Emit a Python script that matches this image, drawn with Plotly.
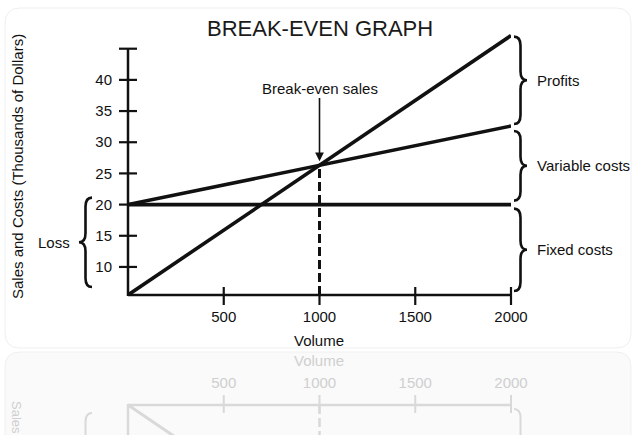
import plotly.graph_objects as go

# ---------------- data ----------------
volume = [0, 2000]
sales = [5.5, 47.1]
total_costs = [20.0, 32.6]
fixed_costs = [20.0, 20.0]
break_even_volume = 1000
break_even_value = 26.3
x_ticks = [500, 1000, 1500, 2000]
y_ticks = [10, 15, 20, 25, 30, 35, 40, 45]
y_tick_text = ["10", "15", "20", "25", "30", "35", "40", ""]
title_text = "BREAK-EVEN GRAPH"
x_title = "Volume"
y_title = "Sales and Costs (Thousands of Dollars)"
y_title_reflected = "Sales"

# ---------------- layout constants ----------------
W, H = 637, 435
ML, MR, MT, MB = 128, 126, 30, 0
PW, PH = W - ML - MR, H - MT - MB
X0, X1 = 0, 2000
Y0, Y1 = 5.5, 48
AXIS_PX = 295            # pixel row of the x axis
MIRROR = 350             # reflection line
R_AXIS_PX = 2 * MIRROR - AXIS_PX
dom0 = (H - MB - AXIS_PX) / PH
upp = (Y1 - Y0) / (AXIS_PX - MT)   # data units per pixel (y)

FONT = "Liberation Sans, Arial, Helvetica, sans-serif"
INK = "#111111"
GHOST = "#d9d9d9"
GHOST_TXT = "#cfcfcf"


def px_x(v):
    return ML + (v - X0) / (X1 - X0) * PW


def px_y(v):
    return AXIS_PX - (v - Y0) / upp


def fx(p):
    return (p - ML) / PW


def fy(p):
    return (H - MB - p) / PH


def mir(p):
    return 2 * MIRROR - p


def line_shape(x0, y0, x1, y1, color=INK, width=2.5, layer="above"):
    return dict(type="line", xref="paper", yref="paper",
                x0=fx(x0), y0=fy(y0), x1=fx(x1), y1=fy(y1),
                line=dict(color=color, width=width), layer=layer)


def brace(xe, xt, ytop, ybot, color=INK, width=2.6, ty=lambda p: p):
    xm = (xe + xt) / 2
    ym = (ytop + ybot) / 2
    q = min(9, (ybot - ytop) / 6)
    pts = [("M", [(xe, ytop)]),
           ("Q", [(xm, ytop), (xm, ytop + q)]),
           ("L", [(xm, ym - q)]),
           ("Q", [(xm, ym), (xt, ym)]),
           ("Q", [(xm, ym), (xm, ym + q)]),
           ("L", [(xm, ybot - q)]),
           ("Q", [(xm, ybot), (xe, ybot)])]
    path = ""
    for cmd, ps in pts:
        path += cmd + " " + " ".join(f"{fx(a):.5f},{fy(ty(b)):.5f}" for a, b in ps) + " "
    return dict(type="path", xref="paper", yref="paper", path=path.strip(),
                line=dict(color=color, width=width), layer="above")


fig = go.Figure()

# main lines
fig.add_trace(go.Scatter(x=volume, y=fixed_costs, mode="lines",
                         line=dict(color=INK, width=3.6), hoverinfo="skip"))
fig.add_trace(go.Scatter(x=volume, y=total_costs, mode="lines",
                         line=dict(color=INK, width=3.6), hoverinfo="skip"))
fig.add_trace(go.Scatter(x=volume, y=sales, mode="lines",
                         line=dict(color=INK, width=3.6), hoverinfo="skip"))
fig.add_trace(go.Scatter(x=[break_even_volume, break_even_volume], y=[Y0, break_even_value],
                         mode="lines", line=dict(color=INK, width=3, dash="9px,4px"),
                         hoverinfo="skip"))

# reflection lines
fig.add_trace(go.Scatter(x=volume, y=sales, mode="lines", xaxis="x2", yaxis="y2",
                         line=dict(color=GHOST, width=3), hoverinfo="skip"))
fig.add_trace(go.Scatter(x=[break_even_volume, break_even_volume], y=[Y0, break_even_value],
                         mode="lines", xaxis="x2", yaxis="y2",
                         line=dict(color=GHOST, width=2.5, dash="9px,4px"), hoverinfo="skip"))

shapes = []
# card backgrounds
shapes.append(dict(type="path", xref="paper", yref="paper", layer="below",
                   path=(f"M {fx(20):.4f},{fy(8):.4f} L {fx(616):.4f},{fy(8):.4f} "
                         f"Q {fx(631):.4f},{fy(8):.4f} {fx(631):.4f},{fy(24):.4f} "
                         f"L {fx(631):.4f},{fy(333):.4f} Q {fx(631):.4f},{fy(348):.4f} {fx(616):.4f},{fy(348):.4f} "
                         f"L {fx(20):.4f},{fy(348):.4f} Q {fx(5):.4f},{fy(348):.4f} {fx(5):.4f},{fy(333):.4f} "
                         f"L {fx(5):.4f},{fy(24):.4f} Q {fx(5):.4f},{fy(8):.4f} {fx(20):.4f},{fy(8):.4f} Z"),
                   fillcolor="white", line=dict(color="#efefef", width=1)))
shapes.append(dict(type="path", xref="paper", yref="paper", layer="below",
                   path=(f"M {fx(20):.4f},{fy(352):.4f} L {fx(616):.4f},{fy(352):.4f} "
                         f"Q {fx(631):.4f},{fy(352):.4f} {fx(631):.4f},{fy(367):.4f} "
                         f"L {fx(631):.4f},{fy(445):.4f} L {fx(5):.4f},{fy(445):.4f} "
                         f"L {fx(5):.4f},{fy(367):.4f} Q {fx(5):.4f},{fy(352):.4f} {fx(20):.4f},{fy(352):.4f} Z"),
                   fillcolor="#fafafa", line=dict(color="#f0f0f0", width=1)))

# axes lines
shapes.append(line_shape(ML, AXIS_PX, px_x(X1), AXIS_PX))
shapes.append(line_shape(ML, AXIS_PX + 1, ML, px_y(y_ticks[-1])))
for v in y_ticks:
    shapes.append(line_shape(ML - 9, px_y(v), ML + 9, px_y(v), width=2.2))
for v in x_ticks:
    shapes.append(line_shape(px_x(v), AXIS_PX - 8, px_x(v), AXIS_PX + 10, width=2.2))

# reflected axes
shapes.append(line_shape(ML, R_AXIS_PX, px_x(X1), R_AXIS_PX, color=GHOST, layer="below"))
shapes.append(line_shape(ML, R_AXIS_PX - 1, ML, H + 5, color=GHOST, layer="below"))
for v in x_ticks:
    shapes.append(line_shape(px_x(v), R_AXIS_PX - 10, px_x(v), R_AXIS_PX + 8,
                             color=GHOST, width=2, layer="below"))

# braces
xe_r, xt_r = px_x(X1) + 3, px_x(X1) + 16
shapes.append(brace(xe_r, xt_r, px_y(sales[-1]) + 1, px_y(total_costs[-1]) - 2))
shapes.append(brace(xe_r, xt_r, px_y(total_costs[-1]) + 5, px_y(fixed_costs[-1]) - 4))
shapes.append(brace(xe_r, xt_r, px_y(fixed_costs[-1]) + 4, px_y(Y0) - 4))
shapes.append(brace(ML - 36, ML - 49, px_y(fixed_costs[0]) - 7, px_y(Y0) - 8))
# reflected braces
shapes.append(brace(xe_r, xt_r, px_y(fixed_costs[-1]) + 4, px_y(Y0) - 4,
                    color=GHOST, width=2, ty=mir))
shapes.append(brace(ML - 36, ML - 49, px_y(fixed_costs[0]) - 7, px_y(Y0) - 8,
                    color=GHOST, width=2, ty=mir))

annotations = []


def label(text, x, y, xanchor="center", yanchor="middle", size=15, color=INK, angle=0):
    annotations.append(dict(text=text, xref="paper", yref="paper", x=fx(x), y=fy(y),
                            xanchor=xanchor, yanchor=yanchor, showarrow=False, textangle=angle,
                            font=dict(family=FONT, size=size, color=color)))


label(title_text, 320, 28, size=22, color="#1a1a1a")
label(x_title, 319, 340)
label(y_title, 17, 167, angle=-90)
right_x = xt_r + 8
label("Profits", right_x, (px_y(sales[-1]) + px_y(total_costs[-1])) / 2, xanchor="left")
label("Variable costs", right_x, (px_y(total_costs[-1]) + px_y(fixed_costs[-1])) / 2, xanchor="left")
label("Fixed costs", right_x, (px_y(fixed_costs[-1]) + px_y(Y0)) / 2, xanchor="left")
label("Loss", ML - 56, (px_y(fixed_costs[0]) + px_y(Y0)) / 2 - 7, xanchor="right")
# reflected texts
label(x_title, 319, mir(340), color=GHOST_TXT)
label(y_title_reflected, 17, 417, angle=90, size=13, color=GHOST_TXT)

# break-even arrow
tip_val = break_even_value + 4 * upp
annotations.append(dict(text="Break-even sales", x=break_even_volume, y=tip_val,
                        xref="x", yref="y", ax=0, ay=-(px_y(tip_val) - 88), axref="pixel",
                        showarrow=True, arrowhead=2, arrowsize=1.1, arrowwidth=1.6,
                        arrowcolor=INK, standoff=0,
                        font=dict(family=FONT, size=15, color=INK)))

fig.update_layout(
    width=W, height=H,
    margin=dict(l=ML, r=MR, t=MT, b=MB, pad=0),
    paper_bgcolor="white", plot_bgcolor="rgba(0,0,0,0)",
    showlegend=False, hovermode=False,
    shapes=shapes, annotations=annotations,
    xaxis=dict(range=[X0, X1], domain=[0, 1], anchor="y", showgrid=False, zeroline=False,
               showline=False, tickvals=x_ticks, ticks="outside", ticklen=8,
               tickcolor="rgba(0,0,0,0)", automargin=False,
               tickfont=dict(family=FONT, size=15, color=INK)),
    yaxis=dict(range=[Y0, Y1], domain=[dom0, 1], anchor="x", showgrid=False, zeroline=False,
               showline=False, tickvals=y_ticks, ticktext=y_tick_text, ticks="outside",
               ticklen=12, tickcolor="rgba(0,0,0,0)", automargin=False,
               tickfont=dict(family=FONT, size=15, color=INK)),
    xaxis2=dict(range=[X0, X1], domain=[0, 1], anchor="y2", side="top", showgrid=False,
                zeroline=False, showline=False, tickvals=x_ticks, ticks="outside", ticklen=10,
                tickcolor="rgba(0,0,0,0)", automargin=False,
                tickfont=dict(family=FONT, size=15, color=GHOST_TXT)),
    yaxis2=dict(range=[Y0 + (H - R_AXIS_PX) * upp, Y0], domain=[0, (H - MB - R_AXIS_PX) / PH],
                anchor="x2", showgrid=False, zeroline=False, showline=False,
                tickvals=[y_ticks[0]], ticktext=[y_tick_text[0]], ticks="outside", ticklen=12,
                tickcolor="rgba(0,0,0,0)", automargin=False,
                tickfont=dict(family=FONT, size=15, color=GHOST_TXT)),
)

fig.write_html("out.html")
